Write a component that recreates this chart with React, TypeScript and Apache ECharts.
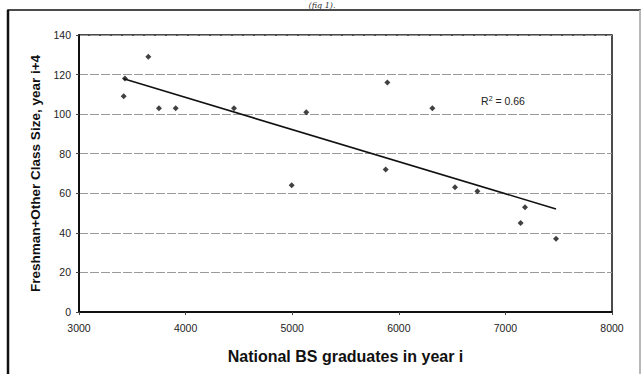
import React, { useEffect, useRef } from "react";
import * as echarts from "echarts";

const nationalBS = [3419, 3431, 3650, 3750, 3907, 4454, 4995, 5132, 5877, 5893, 6315, 6527, 6737, 7143, 7184, 7475];
const classSize = [109, 118, 129, 103, 103, 103, 64, 101, 72, 116, 103, 63, 61, 45, 53, 37];
const xTicks = [3000, 4000, 5000, 6000, 7000, 8000];
const yTicks = [0, 20, 40, 60, 80, 100, 120, 140];
const xTitle = "National BS graduates in year i";
const yTitle = "Freshman+Other Class Size, year i+4";
const caption = "(fig 1).";

function regression(xs: number[], ys: number[]) {
  const n = xs.length;
  const mx = xs.reduce((a, b) => a + b, 0) / n;
  const my = ys.reduce((a, b) => a + b, 0) / n;
  let sxy = 0, sxx = 0, syy = 0;
  for (let i = 0; i < n; i++) {
    sxy += (xs[i] - mx) * (ys[i] - my);
    sxx += (xs[i] - mx) ** 2;
    syy += (ys[i] - my) ** 2;
  }
  const slope = sxy / sxx;
  return { slope, intercept: my - slope * mx, r2: (sxy * sxy) / (sxx * syy) };
}

export default function App() {
  const ref = useRef<HTMLDivElement>(null);
  useEffect(() => {
    if (!ref.current) return;
    const chart = echarts.init(ref.current, null, { renderer: "svg" });
    const reg = regression(nationalBS, classSize);
    const xMin = Math.min(...nationalBS);
    const xMax = Math.max(...nationalBS);
    const trend = [
      [xMin, reg.intercept + reg.slope * xMin],
      [xMax, reg.intercept + reg.slope * xMax],
    ];
    const font = "'Liberation Sans', Arial, sans-serif";
    chart.setOption({
      animation: false,
      backgroundColor: "#fff",
      grid: {
        left: 79,
        right: 32,
        top: 35,
        bottom: 62,
        show: true,
        borderColor: "#111",
        borderWidth: 1.5,
      },
      xAxis: {
        type: "value",
        min: xTicks[0],
        max: xTicks[xTicks.length - 1],
        interval: 1000,
        name: xTitle,
        nameLocation: "middle",
        nameGap: 36,
        nameTextStyle: { fontFamily: font, fontWeight: "bold", fontSize: 16, color: "#111" },
        axisLine: { show: true, lineStyle: { color: "#111", width: 2 } },
        axisTick: { show: true, length: 3, inside: false, lineStyle: { color: "#444" } },
        axisLabel: { fontFamily: font, fontSize: 10.5, color: "#222", margin: 10, formatter: (v: number) => String(v) },
        splitLine: { show: false },
      },
      yAxis: {
        type: "value",
        min: yTicks[0],
        max: yTicks[yTicks.length - 1],
        interval: 20,
        name: yTitle,
        nameLocation: "middle",
        nameGap: 33,
        nameTextStyle: { fontFamily: font, fontWeight: "bold", fontSize: 13.5, color: "#111" },
        axisLine: { show: true, lineStyle: { color: "#111", width: 2 } },
        axisTick: { show: true, length: 3, inside: false, lineStyle: { color: "#444" } },
        axisLabel: { fontFamily: font, fontSize: 10.5, color: "#222", margin: 8, formatter: (v: number) => String(v) },
        splitLine: { show: true, lineStyle: { color: "#9a9a9a", width: 1, type: [9, 2] } },
      },
      series: [
        {
          type: "scatter",
          data: nationalBS.map((x, i) => [x, classSize[i]]),
          symbol: "diamond",
          symbolSize: 6,
          itemStyle: { color: "#111" },
          z: 3,
        },
        {
          type: "line",
          data: trend,
          showSymbol: false,
          symbol: "none",
          lineStyle: { color: "#111", width: 1.6 },
          z: 2,
        },
      ],
      graphic: [
        {
          type: "rect",
          shape: { x: 8, y: 10, width: 632, height: 380 },
          style: { fill: "none", stroke: "#111", lineWidth: 1.5 },
          z: -1,
        },
        {
          type: "line",
          shape: { x1: 8, y1: 10, x2: 8, y2: 374 },
          style: { stroke: "#111", lineWidth: 2.5 },
        },
        {
          type: "line",
          shape: { x1: 640, y1: 10, x2: 640, y2: 374 },
          style: { stroke: "#ddd", lineWidth: 1.5 },
        },
        {
          type: "text",
          x: 322,
          y: 1,
          style: {
            text: caption,
            font: "italic 8px 'DejaVu Serif', serif",
            fill: "#333",
            textAlign: "center",
            textVerticalAlign: "top",
          },
        },
        {
          type: "text",
          x: 503,
          y: 101,
          style: {
            text: "R{sup|2} = " + reg.r2.toFixed(2),
            fontFamily: font,
            fontSize: 10.5,
            fill: "#222",
            textAlign: "center",
            textVerticalAlign: "middle",
            rich: {
              sup: { fontSize: 7, verticalAlign: "top", padding: [0, 0, 6, 0], fontFamily: font, fill: "#222" },
            },
          },
        },
      ],
    });
    return () => chart.dispose();
  }, []);
  return (
    <div
      ref={ref}
      style={{ position: "fixed", left: 0, top: 0, width: 644, height: 374 }}
    />
  );
}
